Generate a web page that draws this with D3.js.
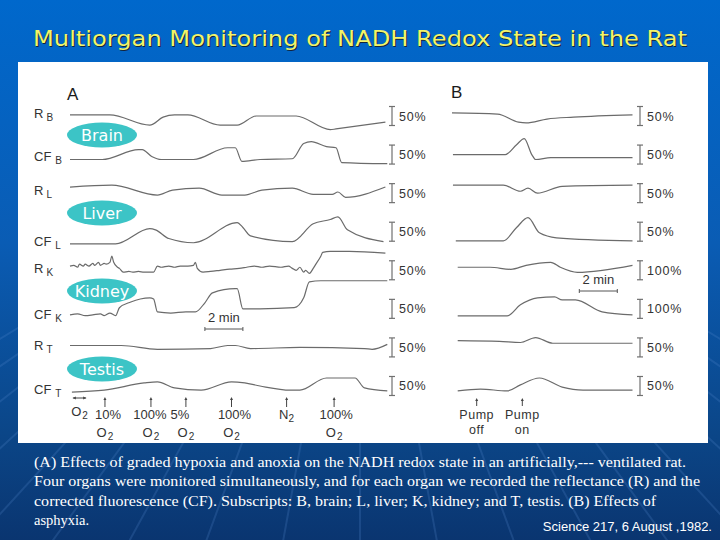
<!DOCTYPE html>
<html><head><meta charset="utf-8">
<script src="https://cdn.jsdelivr.net/npm/d3@7"></script>
<style>body{margin:0;background:#0a4a96}svg{display:block}</style>
</head><body><svg id="c" width="720" height="540"></svg>
<script>
// ---------------- DATA ----------------
const title = "Multiorgan Monitoring of NADH Redox State in the Rat";
const rowMain = ["R","CF","R","CF","R","CF","R","CF"];
const rowSub  = ["B","B","L","L","K","K","T","T"];
const organs  = ["Brain","Liver","Kidney","Testis"];
const scaleA  = [50,50,50,50,50,50,50,50];   // % per scale bar, panel A
const scaleB  = [50,50,50,50,100,100,50,50]; // % per scale bar, panel B
const minutesA = [0,16.8];
const minutesB = [0,9.5];
const scaleMinutes = 2;

// traces: [minute, % deflection]
const A_RB  = [[0,3],[2.1,3],[4.2,-24],[4.9,-3],[5.5,3],[6.2,3],[7.9,-24],[8.8,-24],[9.8,0],[11.9,0],[13.7,-36],[14.0,-34],[16.6,-16]];
const A_CFB = [[0,-13],[1.7,-13],[3.6,13],[3.8,13],[4.3,-5],[4.8,-13],[6.5,-13],[8.3,18],[8.7,18],[9.05,-18],[10.0,-13],[11.7,-11],[12.3,29],[12.7,34],[13.5,21],[14.0,18],[14.3,-21],[16.7,-24]];
const A_RL  = [[0,16],[2.2,21],[4.6,-5],[5.4,8],[6.8,13],[8.0,-5],[9.2,-5],[10.1,8],[11.7,13],[12.8,-3],[13.8,-3],[14.1,3],[14.5,-11],[16.6,16]];
const A_CFL = [[0,-32],[2.4,-32],[4.2,8],[4.5,5],[5.2,-18],[6.5,-29],[8.8,24],[9.1,11],[9.5,-11],[11.7,-26],[12.8,21],[13.7,32],[14.1,39],[14.6,5],[16.5,-26]];
const A_RK  = [[0,11],[0.2,13],[0.4,8],[0.5,16],[0.7,11],[0.8,16],[1.0,11],[1.2,18],[1.3,13],[1.5,21],[1.6,13],[1.8,18],[1.9,16],[2.1,21],[2.2,37],[2.3,21],[2.5,8],[2.6,5],[2.8,-5],[3.1,-3],[3.3,-5],[3.6,-3],[3.9,-5],[4.4,-5],[4.6,11],[4.8,8],[5.2,11],[5.5,8],[5.8,11],[6.2,11],[6.5,13],[6.6,21],[6.7,5],[7.0,-5],[7.4,-3],[7.9,0],[8.4,3],[8.9,5],[9.3,8],[9.7,11],[10.1,8],[10.5,11],[11.1,8],[11.5,11],[11.7,5],[11.9,0],[12.1,8],[12.3,-5],[12.4,0],[12.6,-8],[12.8,5],[12.9,13],[13.2,37],[13.3,47],[13.7,50],[14.7,50],[16.6,45]];
const A_CFK = [[0,-16],[0.4,-13],[0.8,-18],[1.2,-16],[1.6,-13],[1.8,-18],[2.1,-11],[2.4,-18],[2.6,3],[3.2,18],[3.7,26],[4.2,29],[4.4,26],[4.6,-8],[5.3,-11],[6.1,-8],[6.6,-8],[7.1,16],[7.5,42],[8.7,53],[8.8,53],[9.1,0],[10.0,0],[11.8,3],[12.3,29],[12.6,71],[13.2,74],[16.7,74]];
const A_RT  = [[0,5],[2.7,5],[4.6,-5],[7.4,-3],[8.3,5],[8.7,5],[9.5,-3],[12.1,0],[15.5,-3],[15.9,-5],[16.7,8]];
const A_CFT = [[0.1,-16],[1.8,-11],[3.9,8],[4.6,11],[5.5,-5],[6.9,-11],[8.5,11],[9.2,8],[10.0,0],[11.6,-11],[12.1,-11],[13.5,21],[15.0,21],[15.5,-5],[16.7,-13]];

const B_RB  = [[0,8],[2.4,5],[3.5,-16],[3.9,-18],[5.0,-8],[6.4,-3],[9.5,3]];
const B_CFB = [[0.05,0],[2.8,0],[3.4,26],[3.8,42],[4.2,0],[4.4,-13],[5.2,-8],[9.5,-8]];
const B_RL  = [[0.05,21],[2.7,21],[3.6,5],[4.0,13],[4.5,0],[5.8,18],[9.5,21]];
const B_CFL = [[0.2,-24],[2.7,-24],[3.4,11],[4.0,37],[4.6,-3],[5.5,-16],[9.5,-24]];
const B_RK  = [[0.3,16],[2.0,16],[3.1,5],[3.9,26],[5.2,42],[5.7,16],[6.6,-11],[9.5,26]];
const B_CFK = [[0.3,-37],[2.9,-37],[3.6,21],[4.5,58],[5.4,63],[5.8,47],[6.5,47],[7.9,-16],[9.5,-32]];
const B_RT  = [[0.3,18],[2.5,16],[3.6,13],[4.4,26],[5.3,11],[9.5,11]];
const B_CFT = [[0.3,-13],[1.5,-8],[2.9,-13],[3.6,3],[4.6,21],[5.8,-3],[6.9,-11],[9.5,-11]];

const tracesA = [A_RB,A_CFB,A_RL,A_CFL,A_RK,A_CFK,A_RT,A_CFT];
const tracesB = [B_RB,B_CFB,B_RL,B_CFL,B_RK,B_CFK,B_RT,B_CFT];

// events: minute, label line 1, subscript-style line 2
const eventTimesA = [1.84,4.26,6.1,8.5,11.4,13.9];
const eventTop    = ["10%","100%","5%","100%","N","100%"];
const eventBottom = ["O","O","O","O","","O"];
const eventTimesB = [1.3,3.7];
const eventBTop   = ["Pump","Pump"];
const eventBBottom= ["off","on"];

const caption = [
 "(A) Effects of graded hypoxia and anoxia on the NADH redox state in an artificially,--- ventilated rat.",
 "Four organs were monitored simultaneously, and for each organ we recorded the reflectance (R) and the",
 "corrected fluorescence (CF). Subscripts: B, brain; L, liver; K, kidney; and T, testis. (B) Effects of",
 "asphyxia."
];
const source = "Science 217, 6 August ,1982.";

// ---------------- DRAW ----------------
const svg = d3.select("#c");
const defs = svg.append("defs");
const g1 = defs.append("linearGradient").attr("id","bg").attr("x1",0).attr("y1",0).attr("x2",0).attr("y2",1);
g1.append("stop").attr("offset","0%").attr("stop-color","#0068cc");
g1.append("stop").attr("offset","45%").attr("stop-color","#0a5cb4");
g1.append("stop").attr("offset","80%").attr("stop-color","#0b4688");
g1.append("stop").attr("offset","100%").attr("stop-color","#0a3570");
svg.append("rect").attr("width",720).attr("height",540).attr("fill","url(#bg)");

// faint rays
const rays = d3.range(-9,10);
svg.append("g").selectAll("line").data(rays).join("line")
  .attr("x1",360).attr("y1",120)
  .attr("x2",d=>360+d*95).attr("y2",640)
  .attr("stroke","#5a8fd0").attr("stroke-opacity",0.22).attr("stroke-width",2);

// title
svg.append("text").attr("x",360).attr("y",46).attr("text-anchor","middle")
  .attr("font-family","DejaVu Sans").attr("font-size",21)
  .attr("textLength",654).attr("lengthAdjust","spacingAndGlyphs")
  .attr("fill","#15243a").attr("dx",1).attr("dy",1).text(title);
svg.append("text").attr("x",360).attr("y",46).attr("text-anchor","middle")
  .attr("font-family","DejaVu Sans").attr("font-size",21)
  .attr("textLength",654).attr("lengthAdjust","spacingAndGlyphs")
  .attr("fill","#f2f46a").text(title);

// white panel
svg.append("rect").attr("x",18).attr("y",62).attr("width",690).attr("height",381).attr("fill","#fff");

const rowY = i => 116 + i*38.57;
const xA = d3.scaleLinear().domain(minutesA).range([70,389.2]);
const xB = d3.scaleLinear().domain(minutesB).range([452,632.5]);
const ink = "#333";
const traceColor = "#6b6b6b";

// panel letters
svg.append("text").attr("x",67).attr("y",100).attr("font-family","Liberation Sans").attr("font-size",17).attr("fill","#1a1a1a").text("A");
svg.append("text").attr("x",451).attr("y",98).attr("font-family","Liberation Sans").attr("font-size",17).attr("fill","#1a1a1a").text("B");

// row labels
const labelY = [118,161,195,246,273,319,350,394];
rowMain.forEach((m,i)=>{
  const t = svg.append("text").attr("x",34).attr("y",labelY[i]).attr("font-family","Liberation Sans").attr("font-size",13).attr("fill",ink);
  t.append("tspan").text(m);
  t.append("tspan").attr("dx",m==="R"?3:4).attr("dy",3).attr("font-size",10).text(rowSub[i]);
});

function drawPanel(traces, xs, scales, barX){
  traces.forEach((tr,i)=>{
    const c = rowY(i);
    const s = scales[i];
    const y = d3.scaleLinear().domain([-s,s]).range([c+19,c-19]);
    const line = d3.line().x(d=>xs(d[0])).y(d=>y(d[1])).curve(d3.curveMonotoneX);
    svg.append("path").attr("d",line(tr)).attr("fill","none").attr("stroke",traceColor).attr("stroke-width",1.2);
    // scale bar (represents s %)
    const y0 = y(-s/4), y1 = y(s/4);
    const yb0 = c-9.5, yb1 = c+9.5;
    const gb = svg.append("g").attr("stroke","#707070").attr("stroke-width",1.2);
    gb.append("line").attr("x1",barX).attr("x2",barX).attr("y1",yb0).attr("y2",yb1);
    gb.append("line").attr("x1",barX-3).attr("x2",barX+3).attr("y1",yb0).attr("y2",yb0);
    gb.append("line").attr("x1",barX-3).attr("x2",barX+3).attr("y1",yb1).attr("y2",yb1);
    svg.append("text").attr("x",barX+7).attr("y",c+4.5).attr("font-family","Liberation Sans")
      .attr("font-size",12.5).attr("letter-spacing",0.8).attr("fill",ink).text(s+"%");
  });
}
drawPanel(tracesA, xA, scaleA, 392);
drawPanel(tracesB, xB, scaleB, 640);

// organ ellipses
organs.forEach((o,k)=>{
  const cy = 135 + k*78;
  svg.append("ellipse").attr("cx",102).attr("cy",cy).attr("rx",35).attr("ry",12.5).attr("fill","#3cc4c6");
  svg.append("text").attr("x",102).attr("y",cy+5.5).attr("text-anchor","middle")
    .attr("font-family","DejaVu Sans").attr("font-size",16).attr("fill","#fff").text(o);
});

// 2 min bars
function minBar(xs, t0, yText, yBar){
  const xa = xs(t0), xb = xs(t0+scaleMinutes);
  svg.append("text").attr("x",(xa+xb)/2).attr("y",yText).attr("text-anchor","middle")
    .attr("font-family","Liberation Sans").attr("font-size",13).attr("fill",ink).text(scaleMinutes+"  min");
  const g = svg.append("g").attr("stroke","#555").attr("stroke-width",1);
  g.append("line").attr("x1",xa).attr("x2",xb).attr("y1",yBar).attr("y2",yBar);
  g.append("line").attr("x1",xa).attr("x2",xa).attr("y1",yBar-2).attr("y2",yBar+2);
  g.append("line").attr("x1",xb).attr("x2",xb).attr("y1",yBar-2).attr("y2",yBar+2);
}
minBar(xA, 7.1, 322, 329);
minBar(xB, 6.7, 284, 291);

// event arrows
function arrow(x, yTop, yBot){
  svg.append("line").attr("x1",x).attr("x2",x).attr("y1",yTop+2).attr("y2",yBot).attr("stroke","#444").attr("stroke-width",1);
  svg.append("path").attr("d",`M${x-1.5},${yTop+3}L${x},${yTop}L${x+1.5},${yTop+3}Z`).attr("fill","#444");
}
const evDx = [3,-1,-6,3,0,2];
eventTimesA.forEach((t,i)=>{
  const x = xA(t);
  arrow(x, 397, 407);
  const tx = svg.append("text").attr("x",x+evDx[i]).attr("y",419).attr("text-anchor","middle")
    .attr("font-family","Liberation Sans").attr("font-size",13).attr("fill",ink);
  tx.append("tspan").text(eventTop[i]);
  if(eventTop[i]==="N") tx.append("tspan").attr("dy",3).attr("font-size",10).text("2");
  if(eventBottom[i]){
    const b = svg.append("text").attr("x",x).attr("y",437).attr("text-anchor","middle")
      .attr("font-family","Liberation Sans").attr("font-size",13).attr("fill",ink);
    b.append("tspan").text(eventBottom[i]);
    b.append("tspan").attr("dy",3).attr("dx",1).attr("font-size",10).text("2");
  }
});
// initial O2 marker
(function(){
  const xa = xA(0.15), xb = xA(0.85), y = 398;
  svg.append("line").attr("x1",xa).attr("x2",xb).attr("y1",y).attr("y2",y).attr("stroke","#444").attr("stroke-width",1);
  svg.append("path").attr("d",`M${xa+3},${y-1.5}L${xa},${y}L${xa+3},${y+1.5}Z M${xb-3},${y-1.5}L${xb},${y}L${xb-3},${y+1.5}Z`).attr("fill","#444");
  const b = svg.append("text").attr("x",(xa+xb)/2).attr("y",416).attr("text-anchor","middle")
    .attr("font-family","Liberation Sans").attr("font-size",13).attr("fill",ink);
  b.append("tspan").text("O");
  b.append("tspan").attr("dy",3).attr("dx",1).attr("font-size",10).text("2");
})();
eventTimesB.forEach((t,i)=>{
  const x = xB(t);
  arrow(x, 398, 406);
  svg.append("text").attr("x",x).attr("y",419).attr("text-anchor","middle")
    .attr("font-family","Liberation Sans").attr("font-size",12.5).attr("letter-spacing",0.5).attr("fill",ink).text(eventBTop[i]);
  svg.append("text").attr("x",x).attr("y",434).attr("text-anchor","middle")
    .attr("font-family","Liberation Sans").attr("font-size",12.5).attr("letter-spacing",0.5).attr("fill",ink).text(eventBBottom[i]);
});

// caption
const capW = [652,666,622,0];
caption.forEach((c,i)=>{
  const t = svg.append("text").attr("x",34).attr("y",467+i*19.3)
    .attr("font-family","Liberation Serif").attr("font-size",14.5).attr("fill","#fff").text(c);
  if(capW[i]) t.attr("textLength",capW[i]).attr("lengthAdjust","spacingAndGlyphs");
});
svg.append("text").attr("x",712).attr("y",531).attr("text-anchor","end")
  .attr("font-family","Liberation Sans").attr("font-size",13).attr("fill","#fff").text(source);
</script></body></html>
